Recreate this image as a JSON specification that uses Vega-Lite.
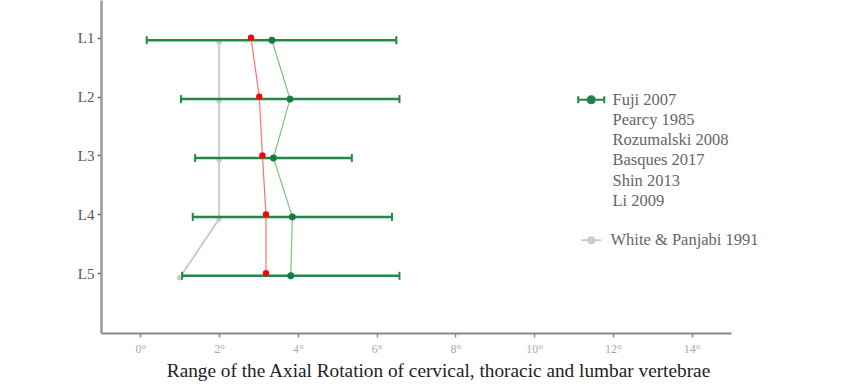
{
  "$schema": "https://vega.github.io/schema/vega-lite/v6.json",
  "width": 630,
  "height": 333,
  "autosize": "none",
  "padding": {"left": 101, "top": 0, "right": 125, "bottom": 57},
  "background": "white",
  "config": {
    "view": {"stroke": null},
    "font": "Liberation Serif",
    "legend": {"labelFont": "Liberation Serif", "labelFontSize": 16.5, "labelColor": "#666"}
  },
  "datasets": {
    "fuji": [
      {"level": "L1", "study": "Fuji 2007", "mean": 3.34, "lo": 0.16, "hi": 6.5},
      {"level": "L2", "study": "Fuji 2007", "mean": 3.8, "lo": 1.03, "hi": 6.58},
      {"level": "L3", "study": "Fuji 2007", "mean": 3.38, "lo": 1.39, "hi": 5.37},
      {"level": "L4", "study": "Fuji 2007", "mean": 3.86, "lo": 1.33, "hi": 6.39},
      {"level": "L5", "study": "Fuji 2007", "mean": 3.82, "lo": 1.06, "hi": 6.58}
    ],
    "red": [
      {"level": "L1", "study": "Pearcy 1985", "value": 2.81},
      {"level": "L2", "study": "Pearcy 1985", "value": 3.02},
      {"level": "L3", "study": "Pearcy 1985", "value": 3.1},
      {"level": "L4", "study": "Pearcy 1985", "value": 3.19},
      {"level": "L5", "study": "Pearcy 1985", "value": 3.19}
    ],
    "white": [
      {"level": "L1", "study": "White & Panjabi 1991", "value": 2},
      {"level": "L2", "study": "White & Panjabi 1991", "value": 2},
      {"level": "L3", "study": "White & Panjabi 1991", "value": 2},
      {"level": "L4", "study": "White & Panjabi 1991", "value": 2},
      {"level": "L5", "study": "White & Panjabi 1991", "value": 1}
    ]
  },
  "encoding": {
    "y": {
      "field": "level",
      "type": "ordinal",
      "scale": {"type": "point", "domain": ["L1", "L2", "L3", "L4", "L5"], "padding": 0.827, "align": 0.387},
      "axis": {
        "title": null,
        "grid": false,
        "domainColor": "#999",
        "domainWidth": 2.5,
        "tickColor": "#666",
        "tickSize": 4,
        "tickWidth": 1.5,
        "labelColor": "#555",
        "labelFontSize": 15,
        "labelPadding": 3
      }
    }
  },
  "layer": [
    {
      "data": {"name": "white"},
      "mark": {"type": "line", "color": "#cccccc", "strokeWidth": 2, "yOffset": 4.5},
      "encoding": {
        "x": {
          "field": "value",
          "type": "quantitative",
          "scale": {"domain": [-1, 15], "nice": false, "zero": false},
          "axis": {
            "values": [0, 2, 4, 6, 8, 10, 12, 14],
            "labelExpr": "datum.value + '°'",
            "title": "Range of the Axial Rotation of cervical, thoracic and lumbar vertebrae",
            "grid": false,
            "domainColor": "#888",
            "domainWidth": 2,
            "tickColor": "#888",
            "tickSize": 4,
            "tickWidth": 1.5,
            "labelColor": "#aaa",
            "labelFontSize": 12,
            "labelPadding": 6,
            "titleFontSize": 19.3,
            "titleColor": "#222",
            "titleFontWeight": "normal",
            "titlePadding": 7,
            "titleX": 337
          }
        },
        "order": {"field": "level", "type": "ordinal"}
      }
    },
    {
      "data": {"name": "white"},
      "mark": {"type": "point", "filled": true, "opacity": 1, "size": 30, "yOffset": 4.5},
      "encoding": {
        "x": {"field": "value", "type": "quantitative"},
        "color": {
          "field": "study",
          "type": "nominal",
          "scale": {"domain": ["White & Panjabi 1991"], "range": ["#cccccc"]},
          "legend": {
            "title": null,
            "orient": "none",
            "legendX": 482,
            "legendY": 232,
            "symbolType": "M-1.67,0L1.67,0M0.5,0A0.5,0.5,0,1,1,-0.5,0A0.5,0.5,0,1,1,0.5,0Z",
            "symbolSize": 144,
            "symbolStrokeWidth": 2,
            "symbolStrokeColor": "#cccccc",
            "symbolFillColor": "#cccccc",
            "labelOffset": 11,
            "labelFont": "Liberation Serif",
            "labelFontSize": 16.5,
            "labelColor": "#666"
          }
        }
      }
    },
    {
      "data": {"name": "fuji"},
      "mark": {"type": "rule", "color": "#23864a", "strokeWidth": 2.5, "yOffset": 2.5},
      "encoding": {
        "x": {"field": "lo", "type": "quantitative"},
        "x2": {"field": "hi"}
      }
    },
    {
      "data": {"name": "fuji"},
      "mark": {"type": "tick", "orient": "vertical", "color": "#23864a", "size": 8, "thickness": 2, "opacity": 1, "yOffset": 2.5},
      "encoding": {
        "x": {"field": "lo", "type": "quantitative"}
      }
    },
    {
      "data": {"name": "fuji"},
      "mark": {"type": "tick", "orient": "vertical", "color": "#23864a", "size": 8, "thickness": 2, "opacity": 1, "yOffset": 2.5},
      "encoding": {
        "x": {"field": "hi", "type": "quantitative"}
      }
    },
    {
      "data": {"name": "red"},
      "mark": {"type": "line", "color": "#ff7070", "strokeWidth": 1.2},
      "encoding": {
        "x": {"field": "value", "type": "quantitative"},
        "order": {"field": "level", "type": "ordinal"}
      }
    },
    {
      "data": {"name": "red"},
      "mark": {"type": "point", "filled": true, "color": "#ff0000", "opacity": 1, "size": 40},
      "encoding": {
        "x": {"field": "value", "type": "quantitative"}
      }
    },
    {
      "data": {"name": "fuji"},
      "mark": {"type": "line", "color": "#7cc47c", "strokeWidth": 1.2, "yOffset": 2.5},
      "encoding": {
        "x": {"field": "mean", "type": "quantitative"},
        "order": {"field": "level", "type": "ordinal"}
      }
    },
    {
      "data": {"name": "fuji"},
      "mark": {"type": "point", "opacity": 1, "size": 40, "strokeWidth": 1, "yOffset": 2.5},
      "encoding": {
        "x": {"field": "mean", "type": "quantitative"},
        "fill": {
          "field": "study",
          "type": "nominal",
          "scale": {"domain": ["Fuji 2007", "Pearcy 1985", "Rozumalski 2008", "Basques 2017", "Shin 2013", "Li 2009"], "range": ["#137a3c", "transparent", "transparent", "transparent", "transparent", "transparent"]},
          "legend": {
            "title": null,
            "orient": "none",
            "legendX": 482,
            "legendY": 91.5,
            "symbolType": "M-2.17,-0.6L-2.17,0.6M-2.17,0L2.17,0M2.17,-0.6L2.17,0.6M0.6,0A0.6,0.6,0,1,1,-0.6,0A0.6,0.6,0,1,1,0.6,0Z",
            "symbolSize": 144,
            "symbolStrokeWidth": 2,
            "labelOffset": 13,
            "rowPadding": 3.2,
            "labelFont": "Liberation Serif",
            "labelFontSize": 16.5,
            "labelColor": "#666"
          }
        },
        "stroke": {
          "field": "study",
          "type": "nominal",
          "scale": {"domain": ["Fuji 2007", "Pearcy 1985", "Rozumalski 2008", "Basques 2017", "Shin 2013", "Li 2009"], "range": ["#23864a", "transparent", "transparent", "transparent", "transparent", "transparent"]},
          "legend": {
            "title": null,
            "orient": "none",
            "legendX": 482,
            "legendY": 91.5,
            "symbolType": "M-2.17,-0.6L-2.17,0.6M-2.17,0L2.17,0M2.17,-0.6L2.17,0.6M0.6,0A0.6,0.6,0,1,1,-0.6,0A0.6,0.6,0,1,1,0.6,0Z",
            "symbolSize": 144,
            "symbolStrokeWidth": 2,
            "labelOffset": 13,
            "rowPadding": 3.2,
            "labelFont": "Liberation Serif",
            "labelFontSize": 16.5,
            "labelColor": "#666"
          }
        }
      }
    }
  ]
}
